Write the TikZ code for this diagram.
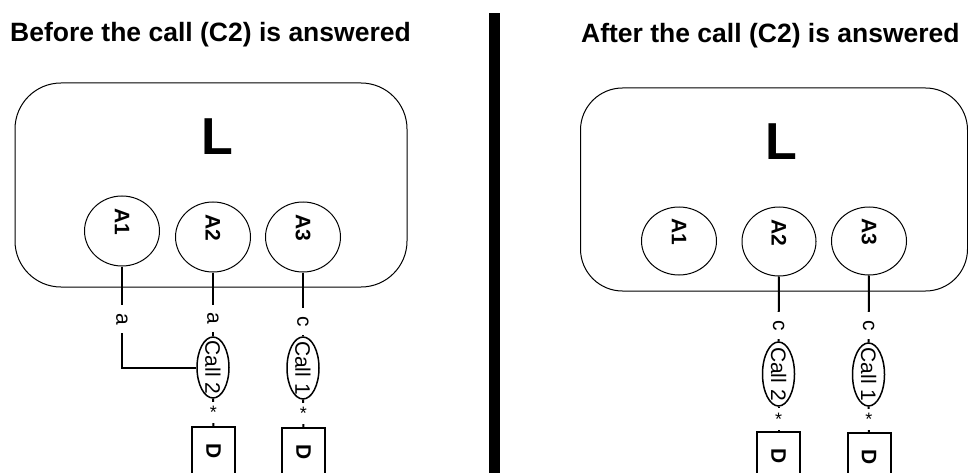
\documentclass[tikz,border=0pt]{standalone}
\usepackage{fontspec}
\setmainfont{Liberation Sans}
\usetikzlibrary{shapes.geometric}
\newcommand{\fsz}[1]{\fontsize{#1}{#1}\selectfont}
\begin{document}
\begin{tikzpicture}[x=1pt,y=-1pt,
	panel/.style={draw,line width=1pt,rounded corners=46pt,minimum width=392pt,minimum height=204pt},
	actor/.style={draw,ellipse,line width=1pt,inner sep=0pt,minimum width=75pt,minimum height=70pt},
	actortxt/.style={font=\fsz{21}\bfseries,rotate=-90,inner sep=0pt},
	callnode/.style={draw,ellipse,line width=1.5pt,inner sep=0pt,minimum width=32pt,minimum height=62pt},
	calltxt/.style={font=\fsz{21},rotate=-90,inner sep=0pt},
	dbox/.style={draw,line width=2pt,minimum width=43pt,minimum height=49pt,inner sep=0pt,font=\fsz{21}\bfseries},
	wire/.style={line width=2pt},
	tag/.style={fill=white,rotate=-90,inner xsep=8pt,inner ysep=1pt,font=\fsz{21}},
	star/.style={fill=white,inner xsep=1pt,inner ysep=4.5pt,font=\fsz{18}},
	title/.style={font=\fsz{26.5}\bfseries,inner sep=0pt,anchor=base west},
	big/.style={font=\fsz{52}\bfseries,inner sep=0pt}]
	\useasboundingbox(0,0)rectangle(968,473);
	% before the call
	\node[title](T1)at(10,42){Before the call (C2) is answered};
	\node[panel](L1)at(211,185){};
	\node[big](L1t)at(217,137){L};
	\node[actor](A1)at(122,231){};
	\node[actor](A2)at(213,237){};
	\node[actor](A3)at(303,237){};
	\node[actortxt](A1t)at([yshift=9pt]A1.center){A1};
	\node[actortxt](A2t)at([yshift=9pt]A2.center){A2};
	\node[actortxt](A3t)at([yshift=9pt]A3.center){A3};
	\node[callnode,minimum height=61pt](c2)at(213,367.5){};
	\node[callnode](c1)at(303,368){};
	\node[calltxt](c2t)at(c2.center){Call 2};
	\node[calltxt](c1t)at(c1.center){Call 1};
	\node[dbox](D1)at(213.5,451.5){\rotatebox{-90}{D}};
	\node[dbox](D2)at(303.5,452.5){\rotatebox{-90}{D}};
	\draw[wire](A1)|-node[tag,pos=.26]{a}(c2);
	\draw[wire](A2)--node[tag,pos=.72]{a}(c2);
	\draw[wire](A3)--node[tag,pos=.77]{c}(c1);
	\draw[wire](c2)--node[star]{*}(D1);
	\draw[wire](c1)--node[star]{*}(D2);
	% divider
	\fill(489,13)rectangle(500,480);
	% after the call
	\node[title](T2)at(581,43){After the call (C2) is answered};
	\node[panel,rounded corners=42pt,minimum width=387pt,minimum height=203pt](L2)at(774,189.5){};
	\node[big](L2t)at(781,141.5){L};
	\node[actor,minimum height=68pt](B1)at(679,241){};
	\node[actor,minimum width=74pt,minimum height=69pt](B2)at(779,241.5){};
	\node[actor,minimum height=68pt](B3)at(869,241){};
	\node[actortxt](B1t)at([yshift=9pt]B1.center){A1};
	\node[actortxt](B2t)at([yshift=9pt]B2.center){A2};
	\node[actortxt](B3t)at([yshift=9pt]B3.center){A3};
	\node[callnode,minimum height=64pt](e2)at(778.5,374){};
	\node[callnode,minimum height=63pt](e1)at(868.5,374.5){};
	\node[calltxt](e2t)at(e2.center){Call 2};
	\node[calltxt](e1t)at(e1.center){Call 1};
	\node[dbox](D3)at(778.5,456.5){\rotatebox{-90}{D}};
	\node[dbox](D4)at(869,457.5){\rotatebox{-90}{D}};
	\draw[wire](B2)--node[tag,pos=.76]{c}(e2);
	\draw[wire](B3)--node[tag,pos=.75]{c}(e1);
	\draw[wire](e2)--node[star]{*}(D3);
	\draw[wire](e1)--node[star]{*}(D4);
\end{tikzpicture}
\end{document}
